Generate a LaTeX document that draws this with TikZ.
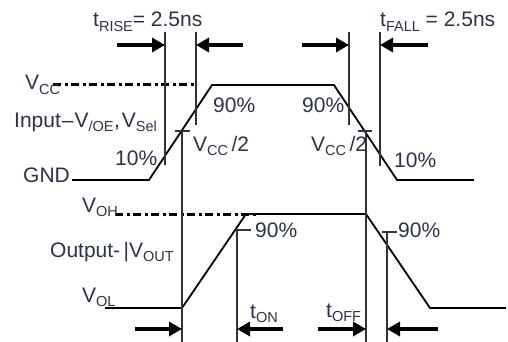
\documentclass[tikz,border=0pt]{standalone}
\usepackage{fontspec}
\setmainfont{Liberation Sans}
\usetikzlibrary{arrows.meta}
\definecolor{txt}{RGB}{45,50,72}
\newcommand{\sbs}[1]{\raisebox{-4.5pt}{\fontsize{14.5}{14.5}\selectfont #1}}
\begin{document}
\begin{tikzpicture}[x=1pt,y=-1pt,
  lbl/.style={anchor=base west,inner sep=0pt,text=txt,font=\fontsize{21}{25}\selectfont},
  wave/.style={line width=1.8pt,line join=miter,black},
  guide/.style={line width=1.2pt,black!80},
  dashdot/.style={line width=3pt,black,dash pattern=on 8pt off 3.5pt on 3pt off 3.5pt},
  timearrow/.style={line width=3.8pt,black,-{Triangle[length=13pt,width=14pt]}}]
\useasboundingbox (0,0) rectangle (508,342);

% ---- input waveform ----
\coordinate (i0) at (72,180);
\coordinate (i1) at (149,180);
\coordinate (i2) at (212,85);
\coordinate (i3) at (334,85);
\coordinate (i4) at (397,180);
\coordinate (i5) at (474,180);
\draw[wave] (i0) -- (i1) -- (i2) -- (i3) -- (i4) -- (i5);

% ---- output waveform ----
\coordinate (o0) at (105,308);
\coordinate (o1) at (182,308);
\coordinate (o2) at (246,214);
\coordinate (o3) at (366,214);
\coordinate (o4) at (430,308);
\coordinate (o5) at (506,308);
\draw[wave] (o0) -- (o1) -- (o2) -- (o3) -- (o4) -- (o5);

% ---- dash-dot reference levels ----
\coordinate (vccA) at (53,85);
\coordinate (vccB) at (197,85);
\coordinate (vohA) at (115,214);
\coordinate (vohB) at (258,214);
\draw[dashdot] (vccA) -- (vccB);
\draw[dashdot] (vohA) -- (vohB);

% ---- guide lines: rise/fall ----
\coordinate (r1t) at (165,32);  \coordinate (r1b) at (165,165);
\coordinate (r2t) at (196,32);  \coordinate (r2b) at (196,125);
\coordinate (f1t) at (349,32);  \coordinate (f1b) at (349,125);
\coordinate (f2t) at (380,32);  \coordinate (f2b) at (380,166);
\draw[guide] (r1t) -- (r1b);
\draw[guide] (r2t) -- (r2b);
\draw[guide] (f1t) -- (f1b);
\draw[guide] (f2t) -- (f2b);

% ---- Vcc/2 marks ----
\coordinate (h1a) at (175,131); \coordinate (h1b) at (190,131);
\coordinate (h1t) at (182,131); \coordinate (h1d) at (182,342);
\coordinate (h2a) at (358,131); \coordinate (h2b) at (372,131);
\coordinate (h2t) at (366,131); \coordinate (h2d) at (366,342);
\draw[guide] (h1a) -- (h1b);
\draw[guide] (h1t) -- (h1d);
\draw[guide] (h2a) -- (h2b);
\draw[guide] (h2t) -- (h2d);

% ---- output 90% marks ----
\coordinate (n1a) at (237,230); \coordinate (n1b) at (251,230);
\coordinate (n1d) at (237,342);
\coordinate (n2a) at (382,232); \coordinate (n2b) at (397,232);
\coordinate (n2t) at (387,232); \coordinate (n2d) at (387,342);
\draw[guide] (n1a) -- (n1b);
\draw[guide] (n1a) -- (n1d);
\draw[guide] (n2a) -- (n2b);
\draw[guide] (n2t) -- (n2d);

% ---- timing arrows ----
\coordinate (a1) at (117,45); \coordinate (a1e) at (165,45);
\coordinate (a2) at (243,45); \coordinate (a2e) at (196,45);
\coordinate (a3) at (302,45); \coordinate (a3e) at (349,45);
\coordinate (a4) at (428,45); \coordinate (a4e) at (380,45);
\coordinate (b1) at (135,329); \coordinate (b1e) at (182,329);
\coordinate (b2) at (283,329); \coordinate (b2e) at (237,329);
\coordinate (b3) at (318,329); \coordinate (b3e) at (366,329);
\coordinate (b4) at (438,329); \coordinate (b4e) at (387,329);
\foreach \s/\e in {a1/a1e,a2/a2e,a3/a3e,a4/a4e,b1/b1e,b2/b2e,b3/b3e,b4/b4e}
  \draw[timearrow] (\s) -- (\e);

% ---- labels ----
\node[lbl] (trise) at (93,27) {t\sbs{RISE}= 2.5ns};
\node[lbl] (tfall) at (380,27) {t\sbs{FALL} = 2.5ns};
\node[lbl] (vcc) at (25,90) {V\sbs{CC}};
\node[lbl] (input) at (14,127) {Input\kern1pt–\kern1pt V\sbs{/OE}\kern0.5pt,\kern2pt V\sbs{Sel}};
\node[lbl] (gnd) at (23,182) {GND};
\node[lbl] (p10a) at (115,165) {10\%};
\node[lbl] (p90a) at (213,113) {90\%};
\node[lbl] (half1) at (193,151) {V\sbs{CC}\,/2};
\node[lbl] (p90b) at (302,113) {90\%};
\node[lbl] (half2) at (311,151) {V\sbs{CC}\,/2};
\node[lbl] (p10b) at (394,167) {10\%};
\node[lbl] (voh) at (82,212) {V\sbs{OH}};
\node[lbl] (vout) at (50,257) {Output-\,|V\sbs{OUT}};
\node[lbl] (vol) at (82,302) {V\sbs{OL}};
\node[lbl] (p90c) at (255,237) {90\%};
\node[lbl] (p90d) at (398,237) {90\%};
\node[lbl] (ton) at (250,318) {t\sbs{ON}};
\node[lbl] (toff) at (326,317) {t\sbs{OFF}};
\end{tikzpicture}
\end{document}
